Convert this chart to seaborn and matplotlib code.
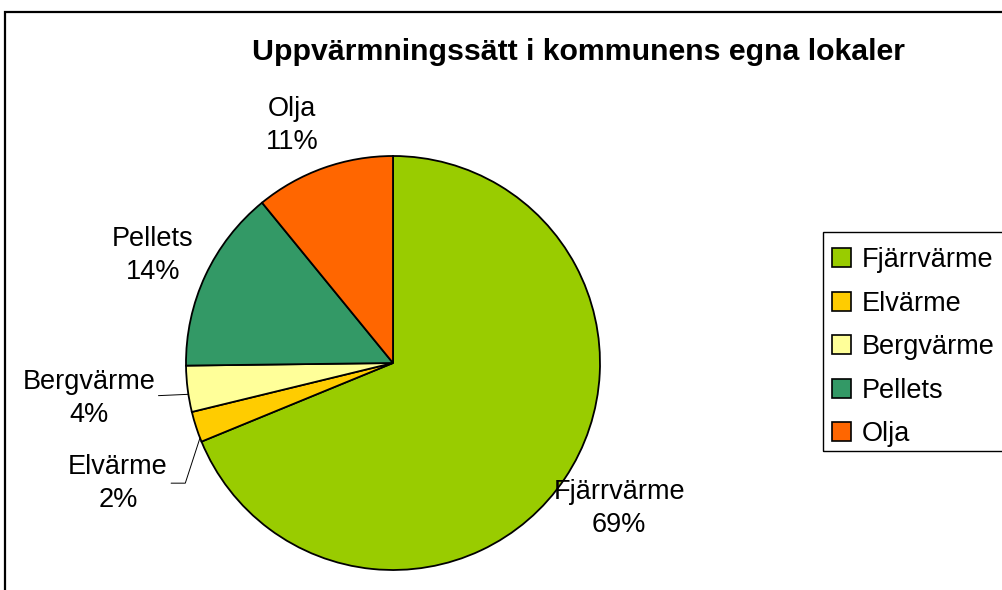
import numpy as np
import matplotlib
matplotlib.use("Agg")
import matplotlib.pyplot as plt
import seaborn as sns
from matplotlib.patches import Rectangle, Patch

# Data
kategorier = ["Fjärrvärme", "Elvärme", "Bergvärme", "Pellets", "Olja"]
andel = [68.8, 2.4, 3.6, 14.3, 10.9]
farger = ["#99CC00", "#FFCC00", "#FFFF99", "#339966", "#FF6600"]
titel = "Uppvärmningssätt i kommunens egna lokaler"

# label placement (distance in radii, angle shift in degrees), layout only
etikett_avst = [1.30, 1.45, 1.48, 1.27, 1.245]
etikett_vinkel = [1.0, 5.6, -0.5, 1.0, 3.4]
ledare = [None, "angle,angleA=0,angleB=72,rad=0", "arc3,rad=0", None, None]
ledare_vinkel = [0, 3.2, 1.5, 0, 0]

sns.set_theme(style="white")
plt.rcParams["font.family"] = ["Liberation Sans", "DejaVu Sans"]
plt.rcParams["text.color"] = "black"

W, H = 1002, 590
fig = plt.figure(figsize=(W / 100, H / 100), dpi=100)

# pie axes: centre (393, 363), radius 207 px
cx, cy, r = 393, 363, 207
ax = fig.add_axes([(cx - r) / W, (H - cy - r) / H, 2 * r / W, 2 * r / H])

wedges, _ = ax.pie(andel, colors=sns.color_palette(farger), startangle=90,
                   counterclock=False, radius=1,
                   wedgeprops=dict(edgecolor="black", linewidth=1.3))
ax.set_xlim(-1, 1)
ax.set_ylim(-1, 1)
ax.set_aspect("equal")
ax.axis("off")

for w, namn, v, d, da, led, la in zip(wedges, kategorier, andel, etikett_avst,
                                      etikett_vinkel, ledare, ledare_vinkel):
    mid = (w.theta1 + w.theta2) / 2
    t = np.deg2rad(mid + da)
    pos = (d * np.cos(t), d * np.sin(t))
    txt = f"{namn}\n{v:.0f}%"
    if led:
        tb = np.deg2rad(mid + la)
        edge = (np.cos(tb), np.sin(tb))
        ax.annotate(txt, xy=edge, xytext=pos, ha="center", va="center",
                    fontsize=19.5, linespacing=1.35, color="black",
                    annotation_clip=False,
                    arrowprops=dict(arrowstyle="-", color="black", lw=0.7,
                                    shrinkA=0, shrinkB=0,
                                    connectionstyle=led))
    else:
        ax.text(pos[0], pos[1], txt, ha="center", va="center", color="black",
                fontsize=19.5, linespacing=1.35, clip_on=False)

fig.text(578 / W, 1 - 52 / H, titel, ha="center", va="center",
         fontsize=21.8, fontweight="bold", color="black")

# legend (frame drawn separately so it can run past the right edge)
handles = [Patch(facecolor=c, edgecolor="black", linewidth=1.2) for c in farger]
leg = fig.legend(handles, kategorier, loc="upper left",
                 bbox_to_anchor=(832 / W, 1 - 247 / H), fontsize=19.5,
                 frameon=False, borderpad=0, labelspacing=0.65,
                 handlelength=0.7, handleheight=0.7,
                 handletextpad=0.4, borderaxespad=0)
for t in leg.get_texts():
    t.set_color("black")
fig.patches.append(Rectangle((823 / W, 1 - 451 / H), 0.3, (451 - 232) / H,
                             transform=fig.transFigure, fill=False,
                             edgecolor="black", linewidth=1.0))

# outer chart frame (cut off at right and bottom)
fig.patches.append(Rectangle((5 / W, -0.1), 1.2, 1.1 - 12 / H,
                             transform=fig.transFigure, fill=False,
                             edgecolor="black", linewidth=1.6))

fig.savefig("out.png", dpi=100)
